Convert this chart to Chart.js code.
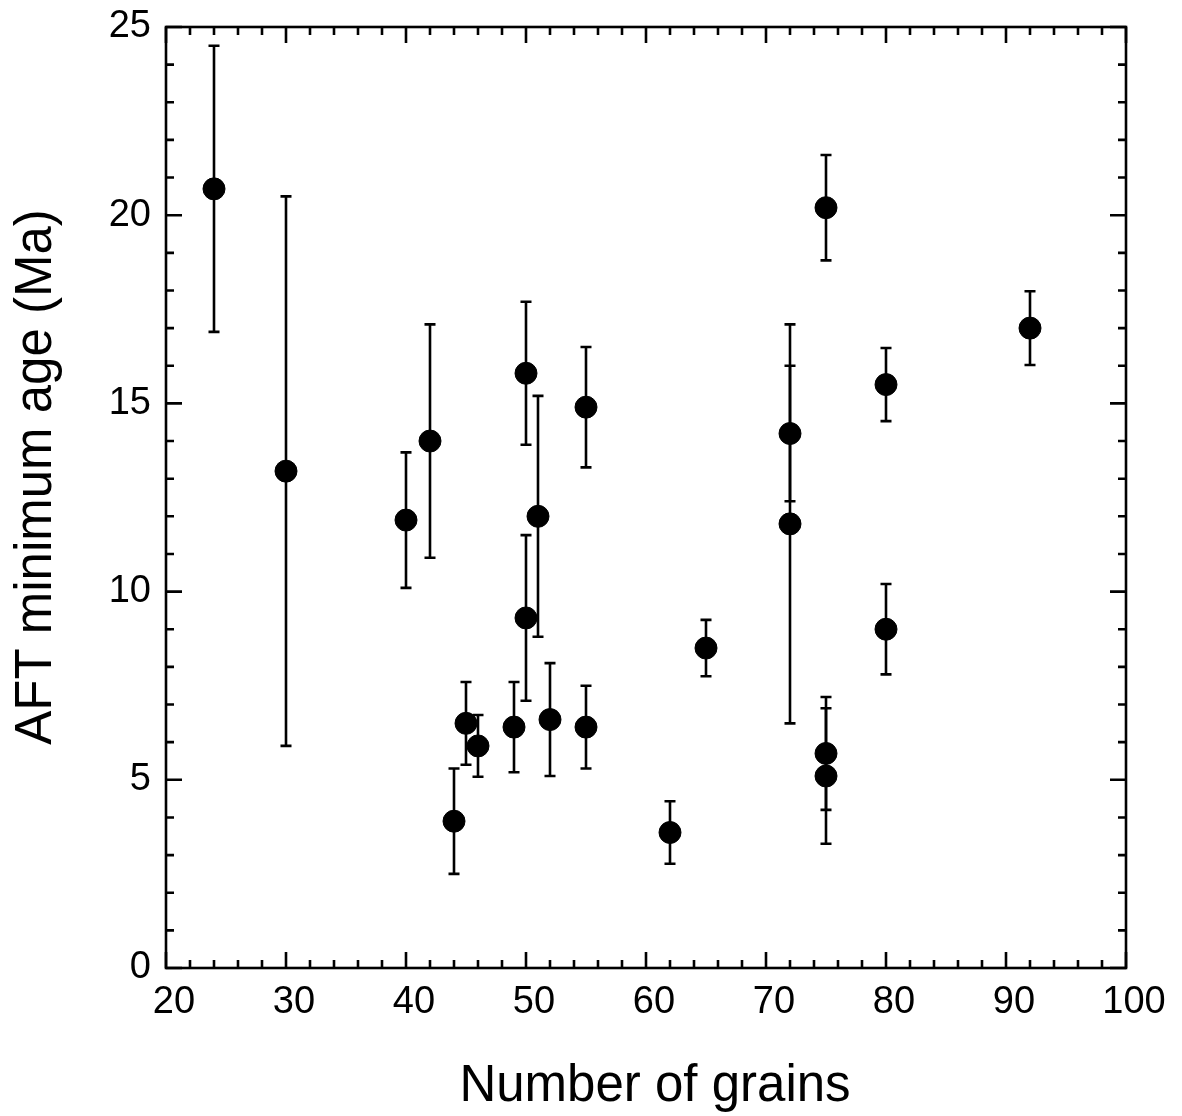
<!DOCTYPE html>
<html>
<head>
<meta charset="utf-8">
<script src="https://cdn.jsdelivr.net/npm/chart.js@4/dist/chart.umd.min.js"></script>
<style>
  body { margin: 0; background: #fff; }
  canvas { display: block; }
</style>
</head>
<body>
<canvas id="graficaGranos" width="1182" height="1116"></canvas>
<script>
// datos
const granos = [24, 30, 40, 42, 44, 45, 46, 49, 50, 50, 51, 52, 55, 55, 62, 65, 72, 72, 75, 75, 75, 80, 80, 92];
const edades = [20.7, 13.2, 11.9, 14.0, 3.9, 6.5, 5.9, 6.4, 15.8, 9.3, 12.0, 6.6, 14.9, 6.4, 3.6, 8.5, 14.2, 11.8, 20.2, 5.7, 5.1, 15.5, 9.0, 17.0];
const errores = [3.8, 7.3, 1.8, 3.1, 1.4, 1.1, 0.82, 1.2, 1.9, 2.2, 3.2, 1.5, 1.6, 1.1, 0.83, 0.75, 1.8, 5.3, 1.4, 1.5, 1.8, 0.97, 1.2, 0.98];

const ticksX = [20, 30, 40, 50, 60, 70, 80, 90, 100];
const ticksY = [0, 5, 10, 15, 20, 25];
const menoresX = [20, 22, 24, 26, 28, 30, 32, 34, 36, 38, 40, 42, 44, 46, 48, 50, 52, 54, 56, 58, 60, 62, 64, 66, 68, 70, 72, 74, 76, 78, 80, 82, 84, 86, 88, 90, 92, 94, 96, 98, 100];
const menoresY = [0, 1, 2, 3, 4, 5, 6, 7, 8, 9, 10, 11, 12, 13, 14, 15, 16, 17, 18, 19, 20, 21, 22, 23, 24, 25];

const tituloX = 'Number of grains';
const tituloY = 'AFT minimum age (Ma)';

const puntos = granos.map((g, i) => ({ x: g, y: edades[i] }));

const fuente = "'Liberation Sans', Arial, sans-serif";

/* barras de error */
const barrasError = {
  id: 'barrasError',
  beforeDatasetsDraw(chart) {
    const ctx = chart.ctx;
    const sx = chart.scales.x;
    const sy = chart.scales.y;
    ctx.save();
    ctx.strokeStyle = '#000';
    ctx.lineWidth = 2.6;
    granos.forEach((g, i) => {
      const px = sx.getPixelForValue(g);
      const arriba = sy.getPixelForValue(edades[i] + errores[i]);
      const abajo = sy.getPixelForValue(edades[i] - errores[i]);
      ctx.beginPath();
      ctx.moveTo(px, arriba);
      ctx.lineTo(px, abajo);
      ctx.moveTo(px - 5.5, arriba);
      ctx.lineTo(px + 5.5, arriba);
      ctx.moveTo(px - 5.5, abajo);
      ctx.lineTo(px + 5.5, abajo);
      ctx.stroke();
    });
    ctx.restore();
  }
};

/* marco, ticks hacia adentro y titulos */
const marco = {
  id: 'marco',
  afterDraw(chart) {
    const ctx = chart.ctx;
    const a = chart.chartArea;
    const sx = chart.scales.x;
    const sy = chart.scales.y;
    ctx.save();
    ctx.strokeStyle = '#000';
    ctx.lineWidth = 2.6;
    ctx.strokeRect(a.left, a.top, a.right - a.left, a.bottom - a.top);
    ctx.beginPath();
    menoresX.forEach(v => {
      const px = sx.getPixelForValue(v);
      const largo = v % 10 === 0 ? 16 : 8;
      ctx.moveTo(px, a.bottom);
      ctx.lineTo(px, a.bottom - largo);
      ctx.moveTo(px, a.top);
      ctx.lineTo(px, a.top + largo);
    });
    menoresY.forEach(v => {
      const py = sy.getPixelForValue(v);
      const largo = v % 5 === 0 ? 16 : 8;
      ctx.moveTo(a.left, py);
      ctx.lineTo(a.left + largo, py);
      ctx.moveTo(a.right, py);
      ctx.lineTo(a.right - largo, py);
    });
    ctx.stroke();

    ctx.fillStyle = '#000';
    ctx.font = '51px ' + fuente;
    ctx.textAlign = 'center';
    ctx.textBaseline = 'alphabetic';
    ctx.fillText(tituloX, 655, 1101);

    ctx.translate(51, 477);
    ctx.rotate(-Math.PI / 2);
    ctx.fillText(tituloY, 0, 0);
    ctx.restore();
  }
};

new Chart(document.getElementById('graficaGranos'), {
  type: 'scatter',
  data: {
    datasets: [{
      data: puntos,
      backgroundColor: '#000',
      borderColor: '#000',
      pointRadius: 11,
      pointHoverRadius: 11
    }]
  },
  options: {
    responsive: false,
    animation: false,
    layout: { padding: { top: 27, right: 56, left: 0, bottom: 0 } },
    plugins: {
      legend: { display: false },
      tooltip: { enabled: false }
    },
    scales: {
      x: {
        type: 'linear',
        min: 20,
        max: 100,
        afterFit(scale) {
          scale.height = 148;
          scale.paddingLeft = 0;
          scale.paddingRight = 0;
        },
        afterBuildTicks(scale) { scale.ticks = ticksX.map(v => ({ value: v })); },
        grid: { display: false, drawTicks: false },
        border: { display: false },
        ticks: {
          color: '#000',
          padding: 12,
          labelOffset: 8,
          maxRotation: 0,
          font: { family: fuente, size: 38 }
        }
      },
      y: {
        type: 'linear',
        min: 0,
        max: 25,
        afterFit(scale) {
          scale.width = 166;
          scale.paddingTop = 0;
          scale.paddingBottom = 0;
        },
        afterBuildTicks(scale) { scale.ticks = ticksY.map(v => ({ value: v })); },
        grid: { display: false, drawTicks: false },
        border: { display: false },
        ticks: {
          color: '#000',
          padding: 15,
          font: { family: fuente, size: 38 }
        }
      }
    }
  },
  plugins: [barrasError, marco]
});
</script>
</body>
</html>
